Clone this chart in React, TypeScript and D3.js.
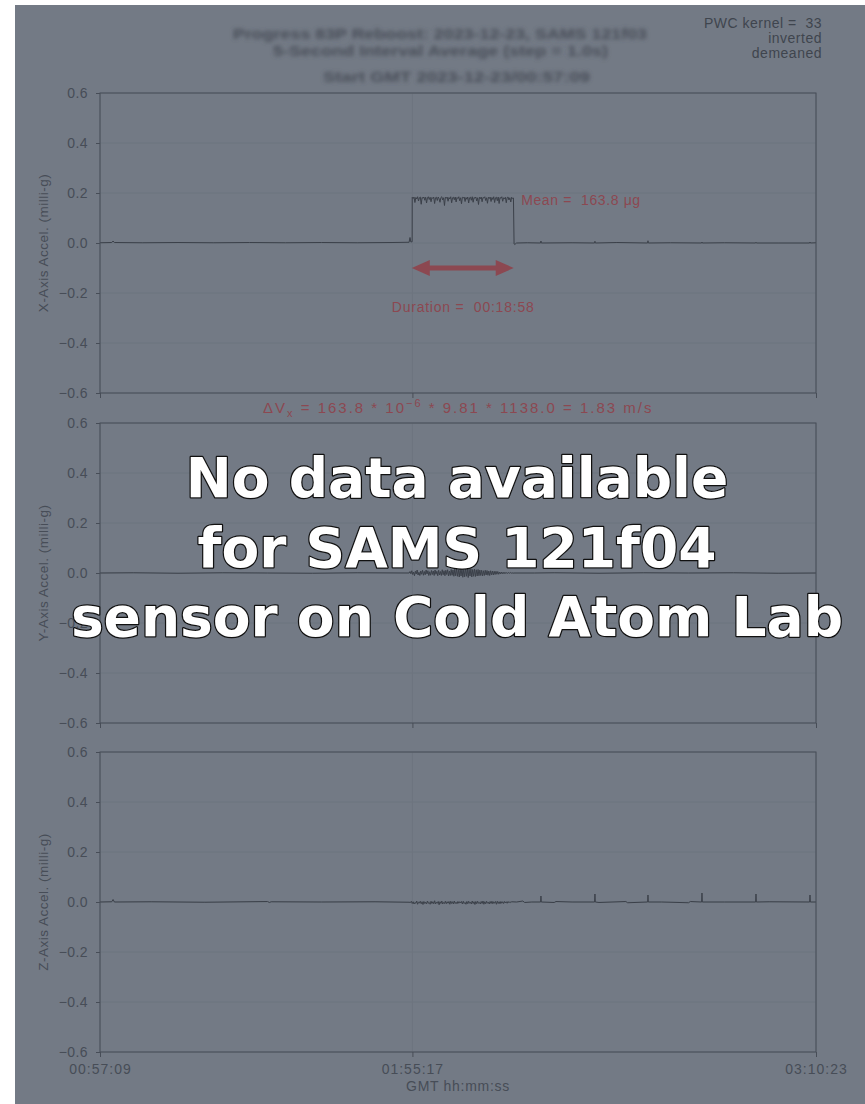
import React, { useEffect, useRef } from 'react';
import * as d3 from 'd3';

// times are GMT seconds of day
const tStart = 3429; // 00:57:09
const tEnd = 11423; // 03:10:23
const xTickTimes = [3429, 6917, 11423];
const yTicks = [-0.6, -0.4, -0.2, 0.0, 0.2, 0.4, 0.6];
const axisLabels = ['X-Axis Accel. (milli-g)', 'Y-Axis Accel. (milli-g)', 'Z-Axis Accel. (milli-g)'];
const titleLines = [
  'Progress 83P Reboost: 2023-12-23, SAMS 121f03',
  '5-Second Interval Average (step = 1.0s)',
  'Start GMT 2023-12-23/00:57:09'
];
const noteLines = ['PWC kernel =\u00a0 33', 'inverted', 'demeaned'];
const bannerLines = ['No data available', 'for SAMS 121f04', 'sensor on Cold Atom Lab'];

// X axis
const xPre: [number, number][] = [
  [3429, 0.001], [3560, 0.002], [3575, 0.008], [3590, 0.002], [3900, 0.001], [4300, 0.002],
  [4700, 0.001], [5100, 0.002], [5500, 0.001], [5900, 0.002], [6300, 0.001], [6700, 0.002],
  [6880, 0.003], [6890, 0.022], [6900, 0.004], [6912, 0.005]
];
const stepStart = 6915;
const sampleStep = 10;
const xStepVals = [
  0.183, 0.178, 0.184, 0.162, 0.182, 0.176, 0.185, 0.168, 0.181, 0.184, 0.155, 0.182, 0.179, 0.184,
  0.171, 0.183, 0.16, 0.181, 0.185, 0.174, 0.183, 0.165, 0.182, 0.178, 0.184, 0.158, 0.181, 0.183,
  0.17, 0.184, 0.177, 0.163, 0.182, 0.185, 0.172, 0.181, 0.15, 0.183, 0.179, 0.184, 0.167, 0.182,
  0.176, 0.185, 0.161, 0.181, 0.183, 0.173, 0.184, 0.164, 0.182, 0.178, 0.185, 0.169, 0.181, 0.157,
  0.183, 0.18, 0.184, 0.166, 0.182, 0.175, 0.184, 0.16, 0.181, 0.183, 0.171, 0.185, 0.163, 0.182,
  0.179, 0.184, 0.168, 0.181, 0.154, 0.183, 0.177, 0.184, 0.165, 0.182, 0.18, 0.185, 0.17, 0.181,
  0.159, 0.183, 0.178, 0.184, 0.166, 0.182, 0.174, 0.185, 0.162, 0.181, 0.183, 0.169, 0.184, 0.158,
  0.182, 0.179, 0.185, 0.167, 0.181, 0.176, 0.183, 0.161, 0.182, 0.184, 0.172, 0.181, 0.164, 0.183,
  0.178, 0.18
];
const xPost: [number, number][] = [
  [8052, -0.004], [8060, -0.006], [8080, 0.0], [8200, 0.001], [8700, 0.001], [9200, 0.002],
  [9800, 0.001], [10400, 0.001], [11000, 0.0], [11423, 0.001]
];
const xSpikeTimes = [8352, 8955, 9547, 10150, 10753, 11356];
const xSpikeVals = [0.008, 0.007, 0.009, 0.004, 0.003, 0.004];

// Y axis
const yPre: [number, number][] = [
  [3429, 0.0], [3800, 0.001], [4300, -0.001], [4800, 0.001], [5300, 0.0], [5800, -0.001],
  [6300, 0.001], [6880, 0.0]
];
const yBurstStart = 6890;
const yBurstVals = [
  0.006, -0.003, 0.009, -0.006, 0.004, -0.011, 0.007, -0.004, 0.012, -0.008, 0.003, -0.01, 0.008,
  -0.005, 0.011, -0.009, 0.006, -0.007, 0.012, -0.004, 0.009, -0.01, 0.005, -0.009, 0.01, -0.006,
  0.008, -0.01, 0.012, -0.005, 0.007, -0.011, 0.011, -0.008, 0.006, -0.01, 0.013, -0.007, 0.009,
  -0.011, 0.011, -0.006, 0.013, -0.012, 0.008, -0.01, 0.014, -0.009, 0.012, -0.013, 0.015, -0.011,
  0.016, -0.013, 0.013, -0.016, 0.017, -0.012, 0.018, -0.017, 0.014, -0.015, 0.019, -0.013, 0.016,
  -0.018, 0.015, -0.012, 0.017, -0.016, 0.014, -0.013, 0.016, -0.014, 0.013, -0.012, 0.014, -0.011,
  0.012, -0.01, 0.011, -0.012, 0.009, -0.01, 0.011, -0.008, 0.01, -0.009, 0.008, -0.01, 0.009,
  -0.007, 0.008, -0.008, 0.007, -0.006, 0.007, -0.005, 0.006, -0.005, 0.004, -0.004, 0.004, -0.003,
  0.003, -0.003, 0.003, -0.002, 0.002, -0.002, 0.002, -0.001, 0.002, -0.001, 0.001, -0.001, 0.0
];
const yPost: [number, number][] = [
  [8280, 0.0], [8500, 0.001], [9000, -0.001], [9500, 0.001], [10000, 0.0], [10500, 0.001],
  [11000, -0.001], [11423, 0.0]
];

// Z axis
const zPre: [number, number][] = [
  [3429, 0.0], [3560, 0.001], [3575, 0.01], [3590, 0.0], [4000, 0.001], [4600, -0.001],
  [5300, 0.002], [5320, -0.002], [5340, 0.001], [5900, 0.0], [6500, 0.001], [6880, -0.001]
];
const zBurstStart = 6895;
const zBurstVals = [
  -0.002, 0.003, -0.006, 0.001, -0.008, -0.002, -0.005, 0.004, -0.009, -0.001, -0.004, 0.003,
  -0.007, 0.001, -0.01, 0.002, -0.006, -0.001, -0.008, 0.004, -0.005, -0.002, -0.009, 0.003,
  -0.006, 0.001, -0.007, 0.005, -0.008, -0.001, -0.005, 0.002, -0.011, 0.001, -0.006, 0.004,
  -0.008, -0.002, -0.006, 0.003, -0.007, 0.001, -0.005, 0.002, -0.009, 0.003, -0.006, 0.001,
  -0.008, 0.004, -0.006, -0.001, -0.007, 0.002, -0.005, 0.001, -0.004, 0.002, -0.008, 0.003,
  -0.006, -0.002, -0.009, 0.002, -0.007, 0.003, -0.005, -0.001, -0.008, 0.004, -0.006, 0.001,
  -0.01, 0.002, -0.007, 0.003, -0.005, -0.002, -0.008, 0.002, -0.006, 0.004, -0.009, 0.001,
  -0.007, 0.003, -0.005, -0.001, -0.008, 0.002, -0.006, 0.003, -0.007, 0.001, -0.005, 0.002,
  -0.009, 0.003, -0.006, 0.001, -0.007, 0.002, -0.005, 0.001, -0.006, 0.002, -0.004, 0.001,
  -0.005, 0.002, -0.003, 0.001, -0.002, 0.001
];
const zPost: [number, number][] = [
  [8080, 0.0], [8150, 0.004], [8170, -0.002], [8250, 0.0], [8500, -0.002], [8520, 0.002],
  [8700, 0.0], [9000, -0.002], [9300, 0.002], [9320, -0.003], [9700, 0.0], [10000, -0.003],
  [10020, 0.002], [10400, 0.0], [10900, 0.001], [11423, 0.0]
];
const zSpikeTimes = [8352, 8955, 9547, 10150, 10753, 11356];
const zSpikeVals = [0.024, 0.032, 0.028, 0.036, 0.032, 0.028];

const meanText = 'Mean =\u00a0 163.8 \u03bcg';
const durationText = 'Duration =\u00a0 00:18:58';
const durationSec = 1138;

function withSpikes(base: [number, number][], times: number[], vals: number[]) {
  const pts = base.slice();
  times.forEach((t, i) => {
    pts.push([t - 4, 0], [t, vals[i]], [t + 4, 0]);
  });
  return pts.sort((a, b) => a[0] - b[0]);
}
function sampled(start: number, vals: number[]): [number, number][] {
  return vals.map((v, i) => [start + i * sampleStep, v]);
}

const fmtTime = (s: number) => {
  const h = Math.floor(s / 3600);
  const m = Math.floor((s % 3600) / 60);
  const sec = s % 60;
  return [h, m, sec].map(v => String(v).padStart(2, '0')).join(':');
};

const W = 865;
const H = 1104;
const BG = '#737a85';
const INK = '#474d57';
const LINE = '#3b4049';
const RED = '#8c4851';
const FONT = '"Liberation Sans", Arial, sans-serif';
const FS = 14;
const LS = 0.7;

const App: React.FC = () => {
  const svgRef = useRef<SVGSVGElement>(null);

  useEffect(() => {
    if (!svgRef.current) return;
    d3.select(svgRef.current).selectAll('*').remove();
    const svg = d3.select(svgRef.current).attr('width', W).attr('height', H);

    const defs = svg.append('defs');
    defs.append('filter').attr('id', 'blur')
      .append('feGaussianBlur').attr('stdDeviation', 2.2);

    svg.append('rect').attr('width', W).attr('height', H).attr('fill', '#ffffff');
    svg.append('rect').attr('x', 15).attr('y', 5).attr('width', W - 15).attr('height', H - 5).attr('fill', BG);

    const left = 100, right = 816, ph = 300;
    const tops = [93, 423, 752];
    const x = d3.scaleLinear().domain([tStart, tEnd]).range([left, right]);

    const series = [
      [...xPre, [stepStart - 1, 0.005] as [number, number], ...sampled(stepStart, xStepVals), ...withSpikes(xPost, xSpikeTimes, xSpikeVals)],
      [...yPre, ...sampled(yBurstStart, yBurstVals), ...yPost],
      [...zPre, ...sampled(zBurstStart, zBurstVals), ...withSpikes(zPost, zSpikeTimes, zSpikeVals)]
    ];

    tops.forEach((top, i) => {
      const y = d3.scaleLinear().domain([-0.6, 0.6]).range([top + ph, top]);
      const g = svg.append('g');

      // faint grid
      g.selectAll('line.gy').data(yTicks).enter().append('line')
        .attr('x1', left).attr('x2', right)
        .attr('y1', d => y(d)).attr('y2', d => y(d))
        .attr('stroke', '#6d747f').attr('stroke-width', 1);
      g.selectAll('line.gx').data(xTickTimes).enter().append('line')
        .attr('x1', d => x(d)).attr('x2', d => x(d))
        .attr('y1', top).attr('y2', top + ph)
        .attr('stroke', '#6d747f').attr('stroke-width', 1);

      const line = d3.line<[number, number]>().x(d => x(d[0])).y(d => y(d[1]));
      g.append('path').datum(series[i]).attr('d', line)
        .attr('fill', 'none').attr('stroke', LINE).attr('stroke-width', 1);

      g.append('rect').attr('x', left).attr('y', top).attr('width', right - left).attr('height', ph)
        .attr('fill', 'none').attr('stroke', INK).attr('stroke-width', 1);

      const ya = g.append('g').attr('transform', `translate(${left},0)`)
        .call(d3.axisLeft(y).tickValues(yTicks).tickSizeInner(4).tickSizeOuter(0).tickPadding(8)
          .tickFormat(d => d3.format('.1f')(Number(d)).replace('-', '\u2212')));
      ya.select('.domain').remove();
      ya.selectAll('line').attr('stroke', INK);
      ya.selectAll('text').attr('fill', INK).attr('font-family', FONT).attr('font-size', FS)
        .attr('letter-spacing', 0.4);

      const xa = g.append('g').attr('transform', `translate(0,${top + ph})`)
        .call(d3.axisBottom(x).tickValues(xTickTimes).tickSizeInner(5).tickSizeOuter(0)
          .tickFormat(d => (i === 2 ? fmtTime(Number(d)) : '')));
      xa.select('.domain').remove();
      xa.selectAll('line').attr('stroke', INK);
      xa.selectAll('text').attr('fill', INK).attr('font-family', FONT).attr('font-size', FS)
        .attr('letter-spacing', LS + 0.3).attr('dy', '1.0em');

      g.append('text')
        .attr('transform', `translate(48,${top + ph / 2}) rotate(-90)`)
        .attr('text-anchor', 'middle')
        .attr('fill', INK).attr('font-family', FONT).attr('font-size', 13.5).attr('letter-spacing', 0.5)
        .text(axisLabels[i]);

      if (i === 0) {
        g.append('text').attr('x', x(stepStart + durationSec) + 7).attr('y', y(0.17) + 4)
          .attr('fill', RED).attr('font-family', FONT).attr('font-size', FS)
          .attr('textLength', 119).attr('lengthAdjust', 'spacing').text(meanText);
        // duration arrow
        const ax1 = x(stepStart - 5), ax2 = x(stepStart + durationSec - 5), ay = y(-0.1);
        const head = 18, hw = 8, sw = 2.5;
        g.append('path')
          .attr('d', `M${ax1},${ay} L${ax1 + head},${ay - hw} L${ax1 + head},${ay - sw} L${ax2 - head},${ay - sw} L${ax2 - head},${ay - hw} L${ax2},${ay} L${ax2 - head},${ay + hw} L${ax2 - head},${ay + sw} L${ax1 + head},${ay + sw} L${ax1 + head},${ay + hw} Z`)
          .attr('fill', RED);
        g.append('text').attr('x', (ax1 + ax2) / 2 - 71).attr('y', y(-0.275))
          .attr('fill', RED).attr('font-family', FONT).attr('font-size', FS)
          .attr('textLength', 142).attr('lengthAdjust', 'spacing').text(durationText);
        const dv = g.append('text').attr('x', 263).attr('y', top + ph + 20)
          .attr('fill', RED).attr('font-family', FONT).attr('font-size', 15).attr('letter-spacing', 2.0);
        dv.append('tspan').text('\u0394V');
        dv.append('tspan').attr('font-size', 11).attr('dy', 4).text('x');
        dv.append('tspan').attr('dy', -4).text(' = 163.8 * 10');
        dv.append('tspan').attr('font-size', 11).attr('dy', -6).text('\u22126');
        dv.append('tspan').attr('dy', 6).text(' * 9.81 * 1138.0 = 1.83 m/s');
      }
    });

    svg.append('text').attr('x', (left + right) / 2).attr('y', 1091)
      .attr('text-anchor', 'middle').attr('fill', INK).attr('font-family', FONT).attr('font-size', FS)
      .attr('letter-spacing', LS).text('GMT hh:mm:ss');

    // blurred title
    const title = svg.append('g').attr('filter', 'url(#blur)');
    const titleLeft = [233, 273, 323];
    const titleLen = [414, 335, 267];
    titleLines.forEach((t, i) => {
      title.append('text').attr('x', titleLeft[i]).attr('y', [39, 56, 82][i])
        .attr('fill', '#484e58').attr('font-family', FONT)
        .attr('font-size', 15).attr('font-weight', 'bold')
        .attr('textLength', titleLen[i]).attr('lengthAdjust', 'spacingAndGlyphs').text(t);
    });

    noteLines.forEach((t, i) => {
      svg.append('text').attr('x', 822).attr('y', 28 + i * 15)
        .attr('text-anchor', 'end').attr('fill', '#3f454e').attr('font-family', FONT).attr('font-size', FS)
        .attr('letter-spacing', 0.5).text(t);
    });

    bannerLines.forEach((t, i) => {
      svg.append('text').attr('x', 457).attr('y', [497, 567, 636][i])
        .attr('text-anchor', 'middle')
        .attr('font-family', '"DejaVu Sans", sans-serif').attr('font-weight', 'bold').attr('font-size', 55)
        .attr('fill', '#ffffff').attr('stroke', '#111111').attr('stroke-width', 2.5)
        .attr('paint-order', 'stroke').attr('stroke-linejoin', 'round')
        .text(t);
    });
  }, []);

  return (
    <svg ref={svgRef} style={{ position: 'absolute', left: 0, top: 0, display: 'block' }} />
  );
};

export default App;
